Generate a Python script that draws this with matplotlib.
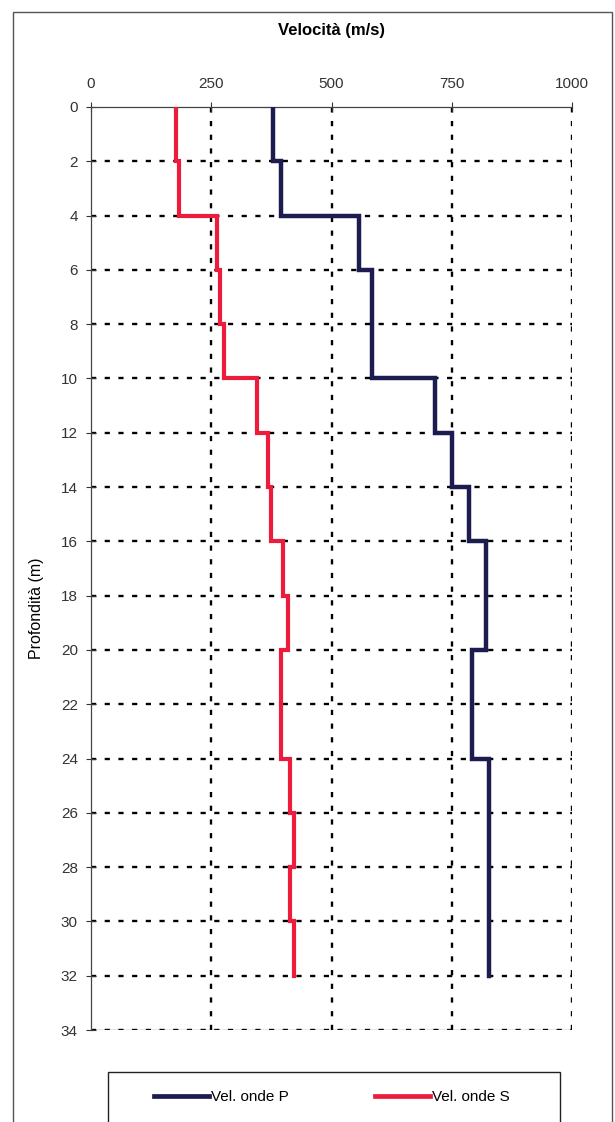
import matplotlib
matplotlib.use("Agg")
import matplotlib.pyplot as plt
from matplotlib.patches import Rectangle
from matplotlib.lines import Line2D

plt.rcParams["font.family"] = ["Liberation Sans", "DejaVu Sans"]

# layer boundaries (m) and interval velocities (m/s)
depth_p = [0, 2, 4, 6, 10, 12, 14, 16, 20, 24, 32]
vel_p = [378, 396, 558, 584, 716, 750, 785, 822, 793, 828]

depth_s = [0, 2, 4, 6, 8, 10, 12, 14, 16, 18, 20, 24, 26, 28, 30, 32]
vel_s = [176, 182, 261, 268, 276, 345, 368, 375, 399, 409, 394, 413, 422, 413, 423]

x_ticks = [0, 250, 500, 750, 1000]
y_ticks = list(range(0, 35, 2))

P_COLOR = "#1c1c50"
S_COLOR = "#ee1c3c"


def step_xy(depths, vels):
    xs, ys = [], []
    for i, v in enumerate(vels):
        xs += [v, v]
        ys += [depths[i], depths[i + 1]]
    return xs, ys


fig = plt.figure(figsize=(6.15, 11.22), dpi=100)
W, H = 615, 1122
ax = fig.add_axes([91 / W, 1 - 1030 / H, (572 - 91) / W, (1030 - 107) / H])

grid_style = dict(color="black", linestyle=(0, (2.2, 3.6)), linewidth=1.7)
for x in x_ticks[1:]:
    ax.axvline(x, **grid_style, zorder=1)
for y in y_ticks[1:]:
    ax.axhline(y, **grid_style, zorder=1)

xs, ys = step_xy(depth_p, vel_p)
ax.plot(xs, ys, color=P_COLOR, linewidth=3.2, solid_joinstyle="miter", zorder=3)
xs, ys = step_xy(depth_s, vel_s)
ax.plot(xs, ys, color=S_COLOR, linewidth=3.0, solid_joinstyle="miter", zorder=3)

ax.set_xlim(0, 1000)
ax.set_ylim(34, 0)
ax.xaxis.tick_top()
ax.set_xticks(x_ticks)
ax.set_yticks(y_ticks)
ax.tick_params(axis="both", direction="inout", length=7, width=0.8,
               labelsize=11, colors="#333333")
ax.tick_params(axis="x", pad=8)
ax.tick_params(axis="y", pad=6)
for side in ("right", "bottom"):
    ax.spines[side].set_visible(False)
for side in ("left", "top"):
    ax.spines[side].set_linewidth(0.9)
    ax.spines[side].set_color("#444444")
ax.axhline(34, color="#444444", linewidth=0.9, zorder=2)

fig.text(331 / W, 1 - 30 / H, "Velocità (m/s)", ha="center", va="center",
         fontsize=12, fontweight="bold",
         family=["Liberation Sans Narrow", "Liberation Sans", "DejaVu Sans"])
fig.text(36 / W, 1 - 608 / H, "Profondità (m)", ha="center", va="center",
         rotation=90, fontsize=11.5)

# outer frame and legend frame
fig.patches.append(Rectangle((13 / W, -0.01), (612 - 13) / W, 1 - 12 / H + 0.01,
                             transform=fig.transFigure, fill=False,
                             edgecolor="#555555", linewidth=1.0))
fig.patches.append(Rectangle((108 / W, -0.01), (560 - 108) / W, 1 - 1072 / H + 0.01,
                             transform=fig.transFigure, fill=False,
                             edgecolor="#222222", linewidth=1.0))

handles = [Line2D([], [], color=P_COLOR, linewidth=3.4),
           Line2D([], [], color=S_COLOR, linewidth=3.4)]
fig.legend(handles, ["Vel. onde P", "Vel. onde S"], loc="center",
           bbox_to_anchor=(332 / W, 1 - 1097 / H), ncol=2, frameon=False,
           fontsize=11, handlelength=3.6, handletextpad=0.15,
           columnspacing=5.6)

fig.savefig("out.png", dpi=100)
